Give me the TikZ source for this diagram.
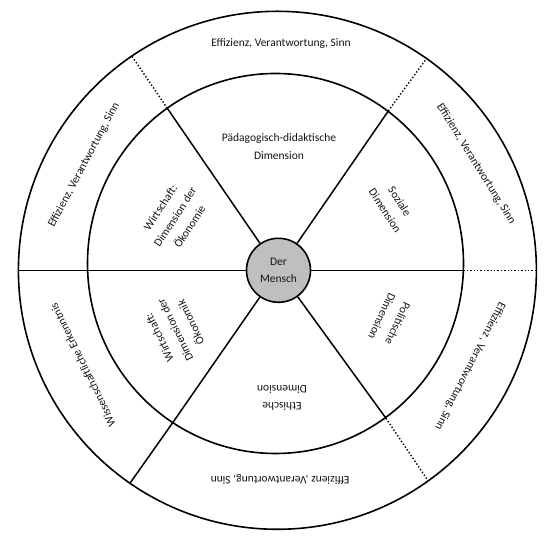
\documentclass[tikz,border=0pt]{standalone}
\usepackage{fontspec}
\setmainfont{Carlito}
\begin{document}
\begin{tikzpicture}[x=1pt,y=1pt,
  ring/.style={line width=1.6pt},
  spoke/.style={line width=1.5pt},
  dotspoke/.style={line width=1.4pt, dotted},
  lab/.style={font=\fontsize{11.5}{17.5}\selectfont, align=center, inner sep=0pt, text=black!92},
  mensch/.style={circle, draw, line width=1.6pt, fill=black!25, minimum size=64pt, inner sep=0pt, font=\fontsize{11.5}{17}\selectfont, align=center, text=black!92}
]
\useasboundingbox (0,0) rectangle (560,543);
\coordinate (O) at (277.4,272.7);
\coordinate (I) at (275.5,279.5);
\coordinate (C) at (278.5,272.7);
\draw[ring] (O) circle (259);
\draw[ring] (I) ellipse (188 and 190);
% inner ends of spokes
\coordinate (A0) at (463.4,272.7);
\coordinate (A55) at (388.3,432);
\coordinate (A125) at (167.3,434.7);
\coordinate (A180) at (87.6,272.7);
\coordinate (A235) at (172.7,120.3);
\coordinate (A305) at (386,124.7);
% outer ends
\coordinate (B0) at (536.4,272.7);
\coordinate (B180) at (18.4,272.7);
\coordinate (B55) at ([shift={(O)}]54.85:259);
\coordinate (B125) at ([shift={(O)}]124.2:259);
\coordinate (B235) at ([shift={(O)}]235.3:259);
\coordinate (B305) at ([shift={(O)}]305.6:259);
\node[mensch] (m) at (C) {Der\\Mensch};
\foreach \a in {0,55,125,180,235,305} \draw[spoke] (m) -- (A\a);
\draw[spoke] (A180) -- (B180);
\draw[spoke] (A235) -- (B235);
\foreach \a in {0,55,125,305} \draw[dotspoke] (A\a) -- (B\a);
% outer ring texts
\node[lab] (t1) at (281,499) {Effizienz, Verantwortung, Sinn};
\node[lab, rotate=-58] (t2) at (476,379) {Effizienz, Verantwortung, Sinn};
\node[lab, rotate=62] (t3) at (84,378) {Effizienz, Verantwortung, Sinn};
\node[lab, rotate=243] (t4) at (470,177) {Effizienz , Verantwortung, Sinn};
\node[lab, rotate=180] (t5) at (280,64) {Effizienz ,Verantwortung, Sinn};
\node[lab, rotate=116] (t6) at (82.7,178) {Wissenschaftliche Erkenntnis};
% inner ring texts
\node[lab] (i1) at (279,396.5) {Pädagogisch-didaktische\\Dimension};
\node[lab, rotate=-57] (i2) at (392.5,337) {Soziale\\Dimension};
\node[lab, rotate=57] (i3) at (175,326) {Wirtschaft:\\Dimension der\\Ökonomie};
\node[lab, rotate=245] (i4) at (390,223) {Politische\\Dimension};
\node[lab, rotate=180] (i5) at (282,145) {Ethische\\Dimension};
\node[lab, rotate=116] (i6) at (175,213) {Wirtschaft:\\Dimension der\\Ökonomik};
\end{tikzpicture}
\end{document}
